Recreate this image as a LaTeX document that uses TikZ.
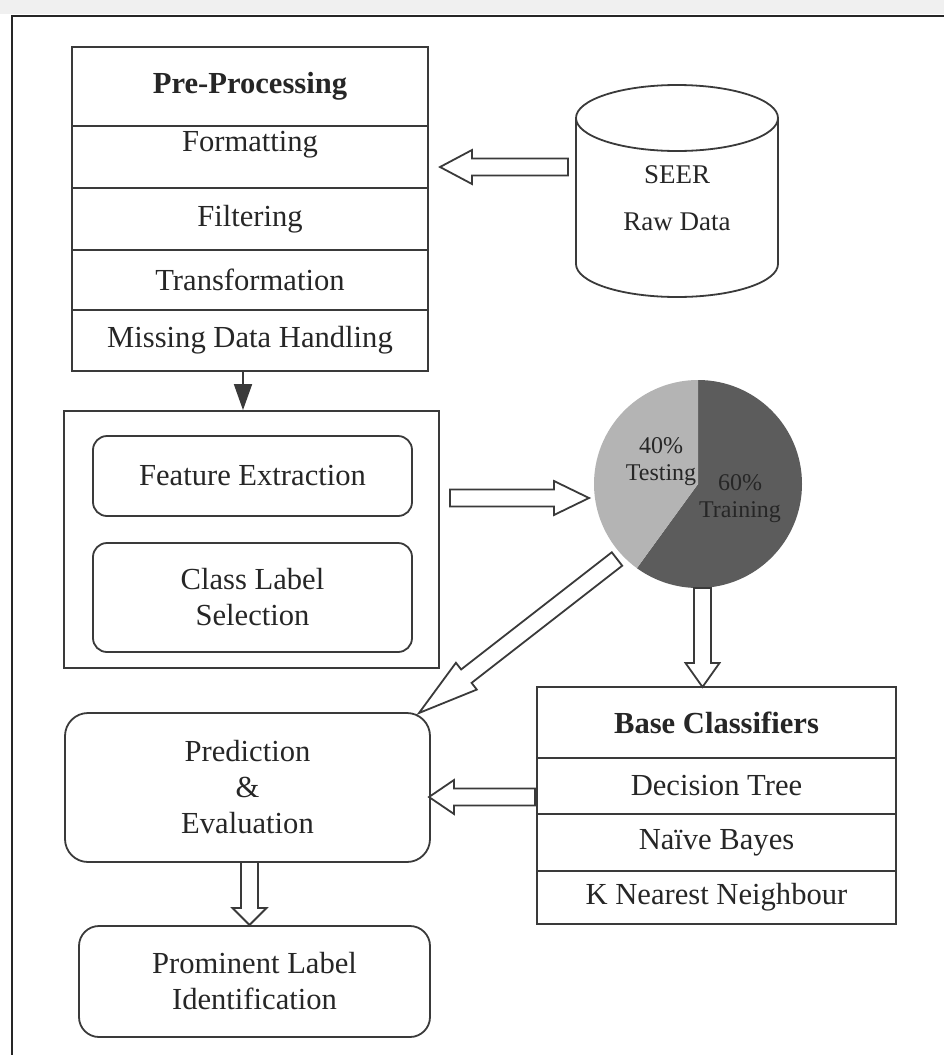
\documentclass[tikz,border=0pt]{standalone}
\usepackage{fontspec}
\setmainfont{Liberation Serif}
\usetikzlibrary{positioning,calc,arrows.meta}

\definecolor{linegray}{HTML}{3A3A3A}
\definecolor{textgray}{HTML}{262626}
\definecolor{piedark}{HTML}{5C5C5C}
\definecolor{pielight}{HTML}{B4B4B4}

% hollow block arrow: [head length]{from}{to}
\newcommand{\hollowarrow}[3][12pt]{%
  \coordinate (ha-b) at ($(#3)!#1!(#2)$);
  \draw[hollow] ($(#2)!4.25pt!90:(#3)$) -- ($(ha-b)!4.25pt!90:(#3)$)
    -- ($(ha-b)!8.5pt!90:(#3)$) -- (#3) -- ($(ha-b)!8.5pt!-90:(#3)$)
    -- ($(ha-b)!4.25pt!-90:(#3)$) -- ($(#2)!4.25pt!-90:(#3)$) -- cycle;}

\begin{document}
\begin{tikzpicture}[x=0.5pt, y=-0.5pt,
    font=\fontsize{15.3}{18}\selectfont, text=textgray,
    ppcell/.style={draw=linegray, line width=0.9pt, minimum width=178pt, inner sep=0pt},
    bccell/.style={draw=linegray, line width=0.9pt, minimum width=179.5pt, inner sep=0pt},
    rbox/.style={draw=linegray, line width=0.9pt, rounded corners=#1, align=center, inner sep=0pt},
    rbox/.default=7pt,
    hollow/.style={draw=linegray, line width=0.9pt, fill=white, line join=miter}]
    \useasboundingbox (0,0) rectangle (944,1055);

    % Page frame
    \fill[gray!12] (0,0) rectangle (944,14);
    \draw[line width=1.3pt, black!85] (12,1055) -- (12,16) -- (944,16);

    % Pre-processing table
    \node[ppcell, minimum height=39.5pt, font=\fontsize{15.3}{18}\selectfont\bfseries] (pphead) at (250,86.5) {Pre-Processing};
    \node[ppcell, minimum height=31pt, text depth=15.4pt] (fmt) at (250,157) {Formatting};
    \node[ppcell, minimum height=31pt] (filt) at (250,219) {Filtering};
    \node[ppcell, minimum height=30pt] (trans) at (250,280) {Transformation};
    \node[ppcell, minimum height=30.5pt] (miss) at (250,340.5) {Missing Data Handling};

    % SEER raw data store
    \draw[linegray, line width=0.9pt, fill=white] (576,118) -- (576,264) arc (180:0:101 and 33) -- (778,118);
    \draw[linegray, line width=0.9pt] (677,118) ellipse (101 and 33);
    \node[align=center, font=\fontsize{13.5}{23.5}\selectfont] (seer) at (677,198.5) {SEER\\Raw Data};

    % Train / test split
    \coordinate (pie) at (698,484);
    \fill[piedark] (pie) -- ++(-90:104) arc (-90:126:104) -- cycle;
    \fill[pielight] (pie) -- ++(126:104) arc (126:270:104) -- cycle;
    \node[align=center, font=\fontsize{12}{13.5}\selectfont] (test) at (661,462) {40\%\\Testing};
    \node[align=center, font=\fontsize{12}{13.5}\selectfont] (train) at (740,499) {60\%\\Training};

    % Feature preparation
    \node[draw=linegray, line width=0.9pt, minimum width=187.5pt, minimum height=128.5pt] (prep) at (251.5,539.5) {};
    \node[rbox, minimum width=159.5pt, minimum height=40pt] (feat) at (252.5,476) {Feature Extraction};
    \node[rbox, minimum width=159.5pt, minimum height=54.5pt] (cls) at (252.5,597.5) {Class Label\\Selection};

    % Base classifiers table
    \node[bccell, minimum height=35.5pt, font=\fontsize{15.3}{18}\selectfont\bfseries] (bchead) at (716.5,722.5) {Base Classifiers};
    \node[bccell, minimum height=28pt] (dt) at (716.5,786) {Decision Tree};
    \node[bccell, minimum height=28.5pt] (nb) at (716.5,842.5) {Naïve Bayes};
    \node[bccell, minimum height=26.5pt] (knn) at (716.5,897.5) {K Nearest Neighbour};

    % Prediction and final labels
    \node[rbox=11.5pt, minimum width=182.5pt, minimum height=74.5pt] (pred) at (247.5,787.5) {Prediction\\\&\\Evaluation};
    \node[rbox=10pt, minimum width=175.5pt, minimum height=55.5pt] (prom) at (254.5,981.5) {Prominent Label\\Identification};

    % Connectors
    \draw[linegray, line width=0.9pt, -{Triangle[length=13pt,width=9pt]}] ([xshift=-3.5pt]miss.south) -- ([xshift=-3.5pt]miss.south |- prep.north);

    \coordinate (dbout) at (568,167);
    \coordinate (ppin) at (440,167);
    \coordinate (featout) at (450,498);
    \coordinate (piein) at (589,498);
    \coordinate (pieout) at (702.5,588);
    \coordinate (bcin) at (702.5,687);
    \coordinate (testout) at (617,559);
    \coordinate (predin) at (419,713);
    \coordinate (bcout) at (535,797);
    \coordinate (predside) at (429,797);
    \coordinate (predout) at (249.5,862);
    \coordinate (promin) at (249.5,925);

    \hollowarrow[16pt]{dbout}{ppin}
    \hollowarrow[17.5pt]{featout}{piein}
    \hollowarrow[12pt]{pieout}{bcin}
    \hollowarrow[30pt]{testout}{predin}
    \hollowarrow[12.5pt]{bcout}{predside}
    \hollowarrow[8.5pt]{predout}{promin}
\end{tikzpicture}
\end{document}
